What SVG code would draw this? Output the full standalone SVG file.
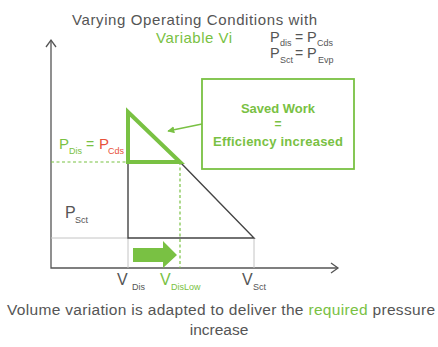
<svg xmlns="http://www.w3.org/2000/svg" width="438" height="347" viewBox="0 0 438 347">
<style>
text{font-family:"Liberation Sans",Arial,sans-serif;fill:#555}
.g{fill:#79c143}
.r{fill:#e8513a}
.b{font-weight:bold}
.ax{stroke:#555;stroke-width:1.3;fill:none}
.lt{stroke:#c4c4c4;stroke-width:1;fill:none}
.dk{stroke:#444;stroke-width:1.4;fill:none}
.gd{stroke:#79c143;stroke-width:1.2;stroke-dasharray:3,2.5;fill:none}
</style>
<defs>
<marker id="ah" viewBox="0 0 10 10" refX="9" refY="5" markerWidth="7" markerHeight="7" orient="auto" markerUnits="userSpaceOnUse">
<path d="M0,0 L10,5 L0,10 z" fill="#79c143"/>
</marker>
</defs>
<rect width="438" height="347" fill="#fff"/>
<g id="title">
<text x="72" y="25" font-size="15" textLength="245">Varying Operating Conditions with</text>
<text x="156" y="43" font-size="15" class="g" textLength="76">Variable Vi</text>
</g>
<g id="conditions">
<text x="270" y="42" font-size="14.5">P</text><text x="280" y="46" font-size="9">dis</text>
<text x="295" y="42" font-size="14">=</text>
<text x="307" y="42" font-size="14.5">P</text><text x="317" y="46" font-size="9">Cds</text>
<text x="270" y="58" font-size="14.5">P</text><text x="280" y="63" font-size="9">Sct</text>
<text x="295" y="58" font-size="14">=</text>
<text x="307" y="58" font-size="14.5">P</text><text x="318" y="63" font-size="9">Evp</text>
</g>
<g id="connectors">
<path class="ax" d="M51,40 V268 H338"/>
<path class="ax" d="M46,47 L51,40 L56,47"/>
<path class="ax" d="M331,263 L338,268 L331,273"/>
<path class="lt" d="M51,238 H128 M128,238 V268 M254,238 V268"/>
<path class="dk" d="M128,162 V238 H254 L180,162"/>
<path class="gd" d="M51,162 H128 M180,162 V268"/>
<path d="M128,112 V162 H180 Z" fill="none" stroke="#79c143" stroke-width="4" stroke-linejoin="miter"/>
<line x1="202" y1="124" x2="168" y2="131" stroke="#79c143" stroke-width="1.5" marker-end="url(#ah)"/>
<path d="M133,248 H163 V241 L177,255 L163,268 V262 H133 Z" fill="#79c143"/>
</g>
<g id="savedwork">
<rect x="202" y="79" width="152" height="90" fill="none" stroke="#79c143" stroke-width="1.8"/>
<text x="278" y="113" font-size="13" class="g b" text-anchor="middle">Saved Work</text>
<text x="278" y="128" font-size="12" class="g b" text-anchor="middle">=</text>
<text x="278" y="146" font-size="13" class="g b" text-anchor="middle" textLength="130">Efficiency increased</text>
</g>
<g id="pdis">
<text x="59" y="149" font-size="15" class="g">P</text><text x="69" y="154" font-size="9" class="g">Dis</text>
<text x="86" y="149" font-size="14" class="g">=</text>
<text x="99" y="149" font-size="15" class="r">P</text><text x="108" y="154" font-size="9" class="r">Cds</text>
</g>
<g id="psct">
<text x="65" y="218" font-size="16">P</text><text x="75" y="223" font-size="9">Sct</text>
</g>
<g id="vlabels">
<text x="117" y="285" font-size="16">V</text><text x="132" y="290" font-size="9">Dis</text>
<text x="160" y="285" font-size="16" class="g">V</text><text x="171" y="290" font-size="9" class="g">DisLow</text>
<text x="242" y="285" font-size="16">V</text><text x="253" y="290" font-size="9">Sct</text>
</g>
<g id="caption">
<text x="7" y="315" font-size="15.5" textLength="428">Volume variation is adapted to deliver the <tspan class="g">required</tspan> pressure</text>
<text x="219" y="335" font-size="15.5" text-anchor="middle">increase</text>
</g>
</svg>
